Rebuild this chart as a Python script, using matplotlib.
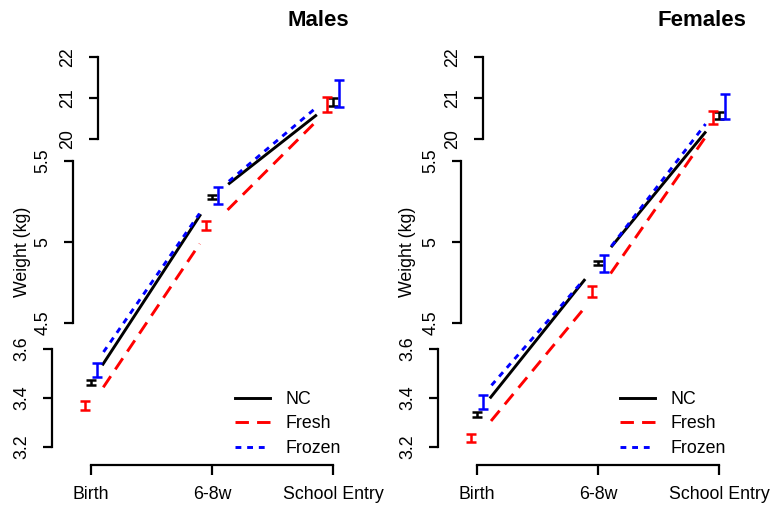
import numpy as np
import matplotlib.pyplot as plt

plt.rcParams['font.family'] = ['Liberation Sans', 'DejaVu Sans']

# data (weight in kg, mean and standard error)
times = ["Birth", "6-8w", "School Entry"]
groups = ["NC", "Fresh", "Frozen"]

male_nc_mean = [3.463, 5.278, 20.90]
male_nc_se = [0.010, 0.012, 0.10]
male_fresh_mean = [3.369, 5.102, 20.84]
male_fresh_se = [0.018, 0.028, 0.18]
male_frozen_mean = [3.514, 5.287, 21.11]
male_frozen_se = [0.028, 0.050, 0.33]

female_nc_mean = [3.333, 4.870, 20.57]
female_nc_se = [0.010, 0.010, 0.09]
female_fresh_mean = [3.237, 4.694, 20.52]
female_fresh_se = [0.016, 0.033, 0.16]
female_frozen_mean = [3.384, 4.867, 20.79]
female_frozen_se = [0.028, 0.050, 0.31]

# broken y axis: three ranges stacked on one axis
seg_ranges = [(3.2, 3.6), (4.5, 5.5), (20, 22)]
seg_ticks = [[3.2, 3.4, 3.6], [4.5, 5, 5.5], [20, 21, 22]]
seg_labels = [["3.2", "3.4", "3.6"], ["4.5", "5", "5.5"], ["20", "21", "22"]]

# layout (pixels)
W, H = 772, 511
brk_val = [3.2, 3.6, 4.5, 5.5, 20, 22]
brk_px = [64, 162, 188, 350, 372, 454]   # height from the bottom


def fwd(v):
    return np.interp(v, brk_val, brk_px)


def inv(p):
    return np.interp(p, brk_px, brk_val)


colors = {"NC": "black", "Fresh": "red", "Frozen": "blue"}
styles = {"NC": "-", "Fresh": (0, (4.6, 2.8)), "Frozen": (0, (2.0, 2.0))}
dodge = {"NC": 0.0, "Fresh": -0.05, "Frozen": 0.05}
fs = 12.8
px = 72 / 100  # points per pixel

fig = plt.figure(figsize=(W / 100, H / 100), dpi=100)


def draw_gapped(ax, x, y, gap, **kw):
    # R type="b" style: lines stop short of each point
    pts = ax.transData.transform(np.column_stack([x, y]))
    line = None
    for a, b in zip(pts[:-1], pts[1:]):
        d = b - a
        u = d / np.hypot(*d)
        seg = ax.transData.inverted().transform([a + u * gap, b - u * gap])
        line, = ax.plot(seg[:, 0], seg[:, 1], **kw)
    return line


def panel(title, birth_px, yaxis_px, means, ses, title_x, ylabel_x, legend_x):
    unit = 121.0
    left = birth_px - 0.4 * unit
    ax = fig.add_axes([left / W, brk_px[0] / H, 2.8 * unit / W,
                       (brk_px[-1] - brk_px[0]) / H])
    ax.set_yscale('function', functions=(fwd, inv))
    ax.set_xlim(0.6, 3.4)
    ax.set_ylim(3.2, 22)
    ax.patch.set_visible(False)
    for s in ["left", "right", "top"]:
        ax.spines[s].set_visible(False)
    ax.spines["bottom"].set_position(("outward", 18 * px))
    ax.spines["bottom"].set_bounds(1, 3)
    ax.spines["bottom"].set_linewidth(1.6)
    ax.tick_params(left=False, labelleft=False)
    ax.set_xticks([1, 2, 3])
    ax.set_xticklabels(times, fontsize=fs)
    ax.tick_params(axis="x", length=10 * px, width=1.6, pad=11 * px)

    x = np.array([1, 2, 3])
    handles = []
    for g in groups:
        m, e = means[g], ses[g]
        ax.errorbar(x + dodge[g], m, yerr=e, fmt="none", ecolor=colors[g],
                    elinewidth=1.8, capsize=3.6, capthick=1.8,
                    clip_on=False)
        h = draw_gapped(ax, x, m, 22, color=colors[g], linestyle=styles[g],
                        linewidth=2.1, clip_on=False)
        handles.append(h)

    ax.legend(handles, groups, loc="upper left", frameon=False,
              bbox_to_anchor=(legend_x / W, 1 - 391 / H),
              bbox_transform=fig.transFigure, fontsize=fs,
              handlelength=1.95, handletextpad=0.9, labelspacing=0.42,
              borderpad=0, borderaxespad=0)

    # the three pieces of the y axis
    for (lo, hi), tks, labs, xp in zip(seg_ranges, seg_ticks, seg_labels, yaxis_px):
        sa = fig.add_axes([xp / W, fwd(lo) / H, 0.01, (fwd(hi) - fwd(lo)) / H])
        sa.patch.set_visible(False)
        for s in ["right", "top", "bottom"]:
            sa.spines[s].set_visible(False)
        sa.spines["left"].set_linewidth(1.6)
        sa.set_ylim(lo, hi)
        sa.set_xticks([])
        sa.set_yticks(tks)
        sa.set_yticklabels(labs, fontsize=fs, rotation=90, ha="center",
                           va="center")
        sa.tick_params(axis="y", length=9 * px, width=1.6, pad=21 * px)

    fig.text(title_x / W, 1 - 21 / H, title, fontsize=16, fontweight="bold",
             ha="center", va="center")
    fig.text(ylabel_x / W, 1 - 252 / H, "Weight (kg)", fontsize=fs,
             rotation=90, ha="center", va="center")


panel("Males", 91, [52, 73, 98],
      {"NC": male_nc_mean, "Fresh": male_fresh_mean, "Frozen": male_frozen_mean},
      {"NC": male_nc_se, "Fresh": male_fresh_se, "Frozen": male_frozen_se},
      318, 23, 235)
panel("Females", 477, [438, 461, 483],
      {"NC": female_nc_mean, "Fresh": female_fresh_mean, "Frozen": female_frozen_mean},
      {"NC": female_nc_se, "Fresh": female_fresh_se, "Frozen": female_frozen_se},
      702, 408, 620)

fig.savefig("out.png", dpi=100)
